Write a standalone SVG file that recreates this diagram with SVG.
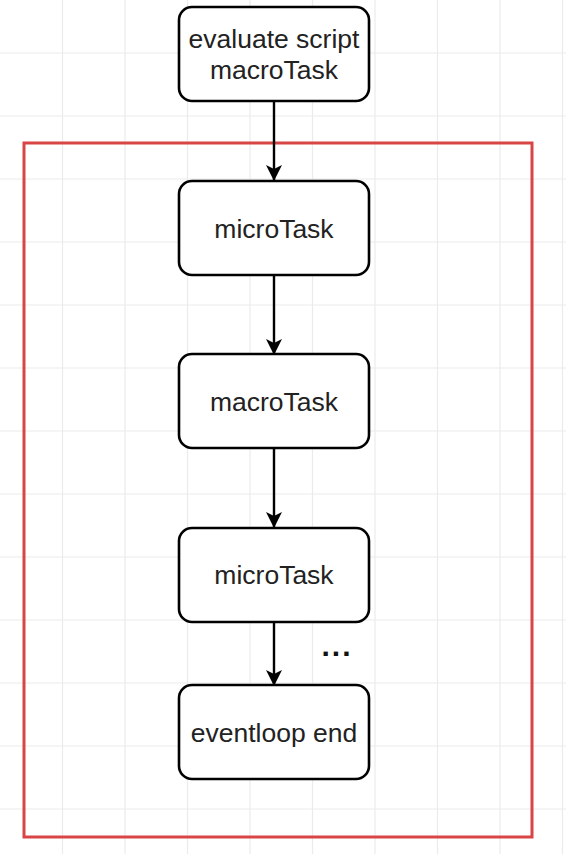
<svg xmlns="http://www.w3.org/2000/svg" width="566" height="854" viewBox="0 0 566 854">
<style>
.grid{stroke:#ebebeb;stroke-width:1.2;fill:none}
.box{fill:#ffffff;stroke:#000000;stroke-width:2.6}
.lbl{font-family:"Liberation Sans",Arial,sans-serif;font-size:26.5px;fill:#222222;text-anchor:middle}
.edge{stroke:#000000;stroke-width:2.4;fill:none;marker-end:url(#arrow)}
</style>
<defs>
<marker id="arrow" markerUnits="userSpaceOnUse" viewBox="0 0 16 16" refX="15" refY="8" markerWidth="18" markerHeight="16" orient="auto">
<path d="M0,0 L16,8 L0,16 L4,8 Z" fill="#000000"/>
</marker>
</defs>
<rect x="0" y="0" width="566" height="854" fill="#ffffff"/>
<path class="grid" d="M62.5,0V854M125,0V854M187.5,0V854M250,0V854M312.5,0V854M375,0V854M437.5,0V854M500,0V854M562.5,0V854M0,53H566M0,116H566M0,179H566M0,242H566M0,305H566M0,368H566M0,431H566M0,494H566M0,557H566M0,620H566M0,683H566M0,746H566M0,809H566"/>
<g id="frame">
<rect x="24" y="143" width="508" height="694" fill="none" stroke="#d94545" stroke-width="3"/>
</g>
<g id="connectors">
<line class="edge" x1="274" y1="101" x2="274" y2="180"/>
<line class="edge" x1="274" y1="275" x2="274" y2="354"/>
<line class="edge" x1="274" y1="448" x2="274" y2="527"/>
<line class="edge" x1="274" y1="622" x2="274" y2="685"/>
</g>
<g id="n1">
<rect class="box" x="179" y="7" width="190" height="94" rx="13"/>
<text class="lbl" x="274" y="48">evaluate script</text>
<text class="lbl" x="274" y="79">macroTask</text>
</g>
<g id="n2">
<rect class="box" x="179" y="181" width="190" height="94" rx="13"/>
<text class="lbl" x="274" y="238">microTask</text>
</g>
<g id="n3">
<rect class="box" x="179" y="354" width="190" height="94" rx="13"/>
<text class="lbl" x="274" y="411">macroTask</text>
</g>
<g id="n4">
<rect class="box" x="179" y="528" width="190" height="94" rx="13"/>
<text class="lbl" x="274" y="584">microTask</text>
</g>
<g id="n5">
<rect class="box" x="179" y="685" width="190" height="94" rx="13"/>
<text class="lbl" x="274" y="742">eventloop end</text>
</g>
<g id="ellipsis">
<text x="337" y="656" font-family="Liberation Sans,Arial,sans-serif" font-size="30" font-weight="bold" letter-spacing="2" fill="#111111" text-anchor="middle">...</text>
</g>
</svg>
